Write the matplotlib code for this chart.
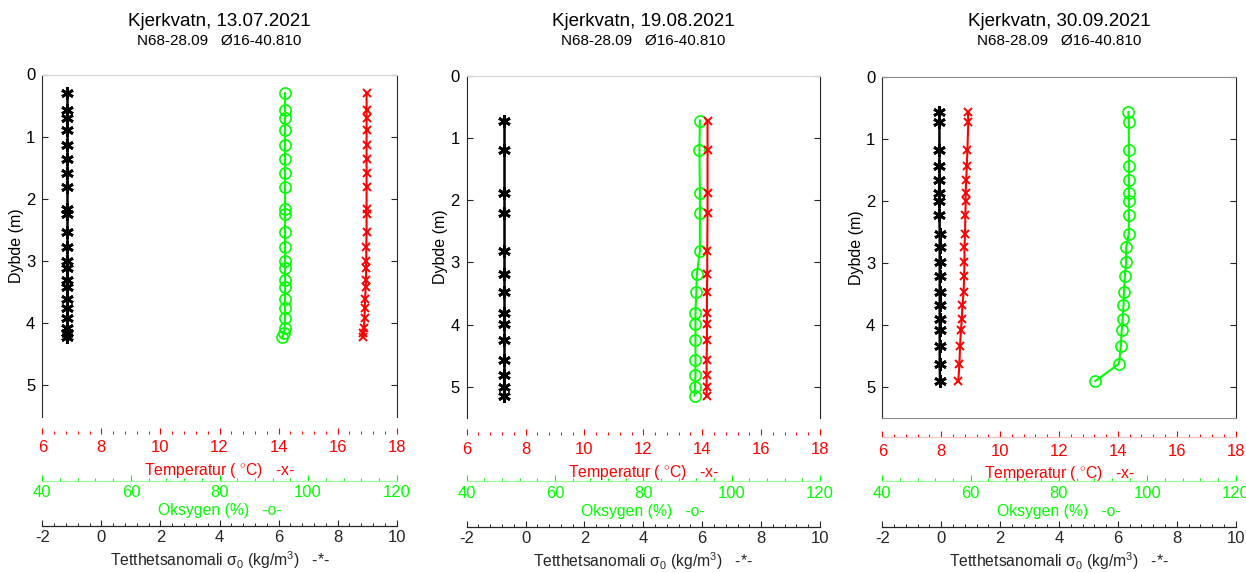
import numpy as np
import matplotlib
matplotlib.use("Agg")
import matplotlib.pyplot as plt
from matplotlib.ticker import AutoMinorLocator, MultipleLocator

plt.rcParams["font.family"] = ["Liberation Sans", "DejaVu Sans"]
plt.rcParams["mathtext.fontset"] = "custom"
plt.rcParams["mathtext.rm"] = "Liberation Sans"
plt.rcParams["mathtext.it"] = "Liberation Sans:italic"
plt.rcParams["axes.unicode_minus"] = False

W, H = 1246, 573

# station header, shared by all three casts
station = "N68-28.09   Ø16-40.810"
dates = ["13.07.2021", "19.08.2021", "30.09.2021"]

# 13.07.2021
depth_jul = [0.30, 0.57, 0.70, 0.89, 1.14, 1.36, 1.58, 1.81, 2.16, 2.24, 2.54,
             2.78, 3.00, 3.11, 3.31, 3.41, 3.61, 3.75, 3.92, 4.07, 4.15, 4.22]
temp_jul = [16.98, 16.98, 16.98, 16.98, 16.98, 16.98, 16.98, 16.98, 16.98, 16.98, 16.98,
            16.97, 16.97, 16.96, 16.96, 16.95, 16.93, 16.92, 16.91, 16.89, 16.87, 16.85]
oxy_jul = [94.8, 94.8, 94.8, 94.8, 94.8, 94.8, 94.8, 94.8, 94.8, 94.8, 94.8,
           94.8, 94.8, 94.8, 94.8, 94.8, 94.8, 94.8, 94.8, 94.7, 94.6, 94.2]
dens_jul = [-1.15] * 22

# 19.08.2021
depth_aug = [0.72, 1.19, 1.89, 2.21, 2.82, 3.19, 3.47, 3.81, 3.99, 4.24,
             4.57, 4.81, 5.00, 5.14]
temp_aug = [14.18, 14.18, 14.18, 14.18, 14.17, 14.17, 14.16, 14.16, 14.16, 14.16,
            14.15, 14.15, 14.15, 14.15]
oxy_aug = [92.8, 92.7, 92.8, 92.8, 92.8, 92.1, 92.0, 91.8, 91.8, 91.8,
           91.8, 91.8, 91.7, 91.6]
dens_aug = [-0.72] * 14

# 30.09.2021
depth_sep = [0.56, 0.72, 1.17, 1.43, 1.65, 1.86, 2.00, 2.22, 2.52, 2.74,
             2.98, 3.21, 3.47, 3.68, 3.90, 4.08, 4.33, 4.62, 4.90]
temp_sep = [8.91, 8.92, 8.89, 8.87, 8.85, 8.83, 8.83, 8.82, 8.81, 8.79,
            8.79, 8.78, 8.76, 8.72, 8.70, 8.67, 8.64, 8.62, 8.58]
oxy_sep = [95.7, 95.8, 95.8, 95.8, 95.8, 95.8, 95.8, 95.8, 95.8, 95.2,
           95.2, 94.9, 94.7, 94.6, 94.4, 94.2, 94.0, 93.6, 88.2]
dens_sep = [-0.06, -0.06, -0.06, -0.06, -0.06, -0.06, -0.06, -0.06, -0.05, -0.05,
            -0.05, -0.05, -0.05, -0.05, -0.05, -0.05, -0.05, -0.05, -0.04]

casts = [
    (depth_jul, temp_jul, oxy_jul, dens_jul),
    (depth_aug, temp_aug, oxy_aug, dens_aug),
    (depth_sep, temp_sep, oxy_sep, dens_sep),
]

temp_lim = (6, 18)
oxy_lim = (40, 120)
dens_lim = (-2, 10)
depth_lim = (0, 5.5)

RED = (1, 0, 0)
GREEN = (0, 1, 0)
AXC = (0.15, 0.15, 0.15)

# pixel boxes of the profile panels: left, top, right, bottom
boxes = [(42.3, 74.5, 396.7, 416.5), (466.7, 75.7, 820.0, 418.0), (882.3, 77.3, 1235.7, 418.3)]
# y pixel of the three stacked x axes under each panel
scale_rows = [(433.5, 480.5, 526.3), (435.0, 481.0, 526.7), (436.7, 481.0, 526.7)]


def px_axes(fig, left, top, right, bottom):
    return fig.add_axes([left / W, 1 - bottom / H, (right - left) / W, (bottom - top) / H])


def scale_axis(fig, left, right, y, lim, major, color, spine_color, label, pad, labelpad):
    ax = px_axes(fig, left, y - 0.5, right, y)
    ax.set_facecolor("none")
    for side in ("top", "left", "right"):
        ax.spines[side].set_visible(False)
    ax.spines["bottom"].set_color(spine_color)
    ax.spines["bottom"].set_linewidth(0.9)
    ax.set_yticks([])
    ax.set_xlim(*lim)
    ax.xaxis.set_major_locator(MultipleLocator(major))
    ax.xaxis.set_minor_locator(AutoMinorLocator(5))
    ax.tick_params(axis="x", which="major", direction="in", length=4.5, width=0.8,
                   color=color, labelcolor=color, labelsize=12, pad=pad)
    ax.tick_params(axis="x", which="minor", direction="in", length=2.2, width=0.7,
                   color=color)
    ax.set_xlabel(label, color=color, fontsize=11.3, labelpad=labelpad)
    return ax


fig = plt.figure(figsize=(W / 100, H / 100), dpi=100)

for i, (depth, temp, oxy, dens) in enumerate(casts):
    left, top, right, bottom = boxes[i]
    ax = px_axes(fig, left, top, right, bottom)
    ax.set_xlim(*dens_lim)
    ax.set_ylim(depth_lim[1], depth_lim[0])
    ax.set_xticks([])
    ax.set_yticks(range(6))
    ax.tick_params(axis="y", direction="in", length=4, width=0.8, color=AXC,
                   labelsize=12, pad=5, right=True)
    ax.set_ylabel("Dybde (m)", fontsize=11.5, labelpad=1.5)
    ax.spines["left"].set_color(AXC)
    ax.spines["right"].set_color(AXC)
    if i < 2:
        ax.spines["top"].set_color("#d4d4d4")
        ax.spines["bottom"].set_visible(False)
    else:
        ax.spines["top"].set_color("#8c8c8c")
        ax.spines["bottom"].set_color("#8c8c8c")

    # temperature and oxygen are rescaled onto the density axis of the panel
    t_dens = dens_lim[0] + (np.asarray(temp) - temp_lim[0]) / (temp_lim[1] - temp_lim[0]) * 12
    o_dens = dens_lim[0] + (np.asarray(oxy) - oxy_lim[0]) / (oxy_lim[1] - oxy_lim[0]) * 12

    ax.plot(dens, depth, color="k", lw=1.8, marker=(6, 2, 0), ms=9, mew=2.0,
            clip_on=False)
    ax.plot(o_dens, depth, color=GREEN, lw=1.5, marker="o", ms=8, mfc="none", mew=1.2)
    ax.plot(t_dens, depth, color=RED, lw=1.5, marker="x", ms=5.5, mew=1.4)

    cx = (left + right) / 2 / W
    fig.text(cx, 1 - 22 / H, "Kjerkvatn, " + dates[i], ha="center", va="center", fontsize=13.5)
    fig.text(cx, 1 - 41 / H, station, ha="center", va="center", fontsize=11)

    y_t, y_o, y_d = scale_rows[i]
    t_spine = (1, 0.75, 0.75) if i == 2 else (1, 1, 1, 0)
    scale_axis(fig, left, right, y_t, temp_lim, 2, RED, t_spine,
               r"Temperatur ( $^{\circ}$C)   -x-", 5, 4)
    scale_axis(fig, left, right, y_o, oxy_lim, 20, GREEN, (0.6, 1, 0.6),
               "Oksygen (%)   -o-", 3.5, 2)
    scale_axis(fig, left, right, y_d, dens_lim, 2, AXC, AXC,
               r"Tetthetsanomali σ$_0$ (kg/m$^3$)   -*-", 3, 3)

fig.savefig("out.png", dpi=100)
